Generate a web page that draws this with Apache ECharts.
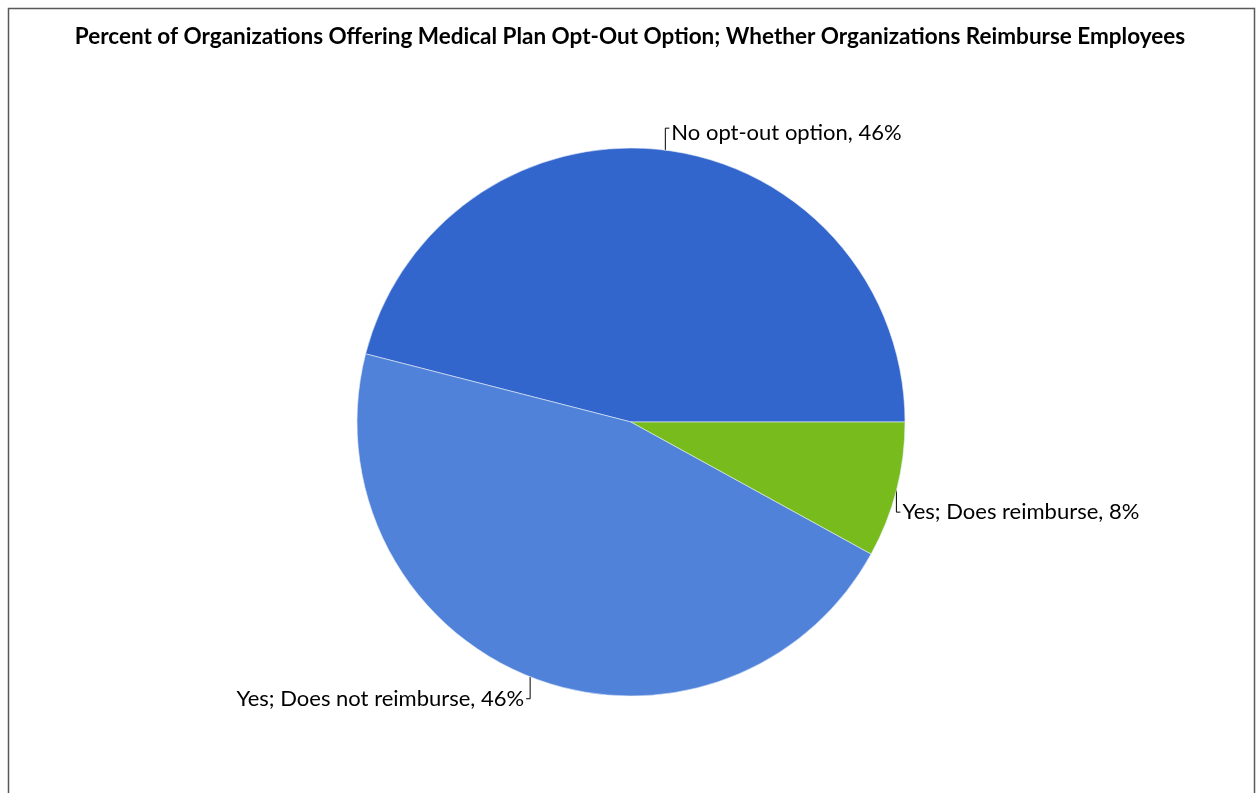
<!DOCTYPE html>
<html>
<head>
<meta charset="utf-8">
<script src="https://cdn.jsdelivr.net/npm/echarts@6/dist/echarts.min.js"></script>
<style>
  html, body { margin: 0; padding: 0; background: #fff; }
  #chart { width: 1260px; height: 793px; }
</style>
</head>
<body>
<div id="chart"></div>
<script>
const titleText = "Percent of Organizations Offering Medical Plan Opt-Out Option; Whether Organizations Reimburse Employees";
const categories = ["No opt-out option", "Yes; Does not reimburse", "Yes; Does reimburse"];
const values = [46, 46, 8];
const colors = ["#3366cc", "#4f82d8", "#78bb1c"];

const chart = echarts.init(document.getElementById("chart"));

const data = categories.map((name, i) => ({
  name,
  value: values[i],
  itemStyle: { color: colors[i] },
}));

chart.setOption({
  animation: false,
  title: {
    text: titleText,
    left: "center",
    top: 20,
    textStyle: { fontFamily: "Lato", fontWeight: "bold", fontSize: 22.5, color: "#000" },
  },
  graphic: [
    {
      type: "rect",
      shape: { x: 8.5, y: 8.5, width: 1246, height: 800 },
      style: { fill: "none", stroke: "#595959", lineWidth: 1.5 },
      silent: true,
    },
  ],
  series: [
    {
      type: "pie",
      center: [631, 422],
      radius: 274,
      startAngle: 0,
      clockwise: false,
      data,
      itemStyle: { borderColor: "#e8eef8", borderWidth: 0.6 },
      label: {
        show: true,
        formatter: "{b}, {c}%",
        fontFamily: "Lato",
        fontSize: 22,
        color: "#000",
      },
      labelLine: {
        show: true,
        length: 20,
        length2: 6,
        lineStyle: { color: "#000", width: 1 },
      },
      labelLayout: (params) => {
        const pts = params.labelLinePoints;
        if (!pts) return {};
        const sx = pts[0][0];
        const sy = pts[0][1];
        const dy = pts[1][1] < sy ? -1 : 1;
        const dx = pts[2][0] >= pts[1][0] ? 1 : -1;
        const ey = sy + dy * 22;
        const tx = sx + dx * 4;
        return {
          x: tx + dx * 2,
          y: ey + (dy < 0 ? 5 : 0),
          align: dx > 0 ? "left" : "right",
          verticalAlign: "middle",
          labelLinePoints: [[sx, sy], [sx, ey], [tx, ey]],
        };
      },
    },
  ],
});
</script>
</body>
</html>
